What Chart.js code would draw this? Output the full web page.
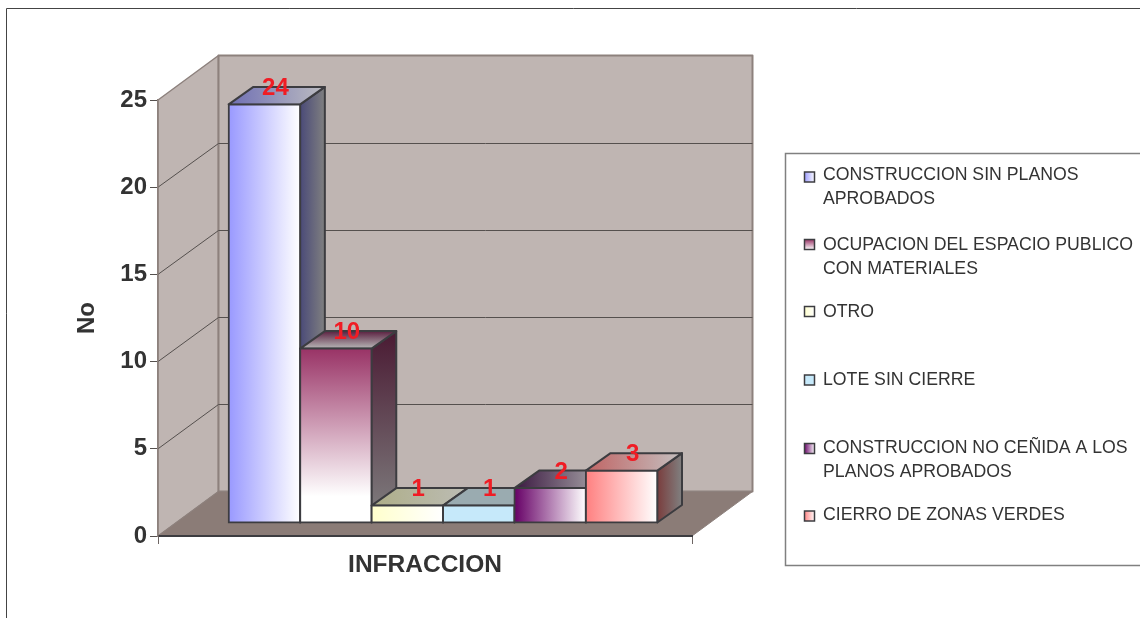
<!DOCTYPE html>
<html>
<head>
<meta charset="utf-8">
<style>
  html, body { margin: 0; padding: 0; background: #fff; overflow: hidden; }
  canvas { display: block; }
</style>
</head>
<body>
<canvas id="chart" width="1140" height="618"></canvas>
<script src="https://cdn.jsdelivr.net/npm/chart.js@4/dist/chart.umd.js"></script>
<script>
const axisCategory = ['INFRACCION'];
const seriesNames = [
  'CONSTRUCCION SIN PLANOS APROBADOS',
  'OCUPACION DEL ESPACIO PUBLICO CON MATERIALES',
  'OTRO',
  'LOTE SIN CIERRE',
  'CONSTRUCCION NO CEÑIDA A LOS PLANOS APROBADOS',
  'CIERRO DE ZONAS VERDES'
];
const seriesValues = [24, 10, 1, 1, 2, 3];
const yTicks = [0, 5, 10, 15, 20, 25];

// face colours of each bar: front, top and side start from these and fade to the end colour
const frontColors = ['#9999ff', '#993366', '#ffffcc', '#c6e9fa', '#660066', '#ff8080'];
const frontEnds = ['#ffffff', '#ffffff', '#ffffff', '#c6e9fa', '#ffffff', '#ffffff'];
const topColors = ['#6f6fb4', '#5a2040', '#aeae88', '#9aabb0', '#3a1840', '#c06464'];
const topEnds = ['#bcbcc0', '#b8b8b8', '#bcbcb4', '#9aabb0', '#b4b4b4', '#c4c0c0'];
const sideColors = ['#4a4a78', '#4a1a33', '#80805f', '#7d9099', '#330033', '#7a3d3d'];
const sideEnds = ['#808080', '#808080', '#808080', '#808080', '#808080', '#808080'];
const verticalFade = [false, true, false, false, false, false];

const fontName = '"Liberation Sans", Arial, sans-serif';
const wallColor = '#bfb5b2';
const floorColor = '#8b7c77';
const wallEdge = '#8d817d';
const gridColor = '#55504e';
const edgeColor = '#3c3c40';
const textColor = '#333333';

const wallDepth = { x: 60.5, y: 44.5 };
const barShift = { x: 18, y: 13 };
const barDepth = { x: 24.7, y: 17.5 };

function polygon(ctx, points, fill, stroke, width) {
  ctx.beginPath();
  points.forEach(([x, y], i) => (i ? ctx.lineTo(x, y) : ctx.moveTo(x, y)));
  ctx.closePath();
  if (fill) {
    ctx.fillStyle = fill;
    ctx.fill();
  }
  if (stroke) {
    ctx.strokeStyle = stroke;
    ctx.lineWidth = width;
    ctx.lineJoin = 'round';
    ctx.stroke();
  }
}

function fade(ctx, x0, y0, x1, y1, from, to, stop = 1) {
  const g = ctx.createLinearGradient(x0, y0, x1, y1);
  g.addColorStop(0, from);
  g.addColorStop(stop, to);
  return g;
}

// one bar: top and side faces, then the library's own bar element shifted onto the front plane
function drawBox(chart, i) {
  const { ctx } = chart;
  const bar = chart.getDatasetMeta(i).data[0];
  const x0 = bar.x - bar.width / 2 + barShift.x;
  const x1 = bar.x + bar.width / 2 + barShift.x;
  const yt = bar.y - barShift.y;
  const yb = bar.base - barShift.y;
  const dx = barDepth.x;
  const dy = barDepth.y;

  ctx.save();
  const sideFill = verticalFade[i]
    ? fade(ctx, 0, yt - dy, 0, yb, sideColors[i], sideEnds[i])
    : fade(ctx, x1, 0, x1 + dx, 0, sideColors[i], sideEnds[i]);
  const topFill = verticalFade[i]
    ? fade(ctx, 0, yt - dy, 0, yt, topColors[i], topEnds[i])
    : fade(ctx, x0, 0, x1 + dx, 0, topColors[i], topEnds[i]);
  polygon(ctx, [[x1, yt], [x1 + dx, yt - dy], [x1 + dx, yb - dy], [x1, yb]], sideFill, edgeColor, 2);
  polygon(ctx, [[x0, yt], [x0 + dx, yt - dy], [x1 + dx, yt - dy], [x1, yt]], topFill, edgeColor, 2);

  const frontFill = verticalFade[i]
    ? fade(ctx, 0, bar.y, 0, bar.base, frontColors[i], frontEnds[i], 0.85)
    : fade(ctx, bar.x - bar.width / 2, 0, bar.x + bar.width / 2, 0, frontColors[i], frontEnds[i]);
  bar.options = { ...bar.options, backgroundColor: frontFill };
  ctx.translate(barShift.x, -barShift.y);
  bar.draw(ctx);
  ctx.restore();
}

// frame, walls, floor and wall grid lines of the 3D box
const wallsPlugin = {
  id: 'walls',
  beforeDraw(chart) {
    const { ctx, chartArea, scales } = chart;
    const { left, right, top, bottom } = chartArea;
    const dx = wallDepth.x;
    const dy = wallDepth.y;
    ctx.save();

    ctx.strokeStyle = '#444444';
    ctx.lineWidth = 1;
    ctx.beginPath();
    ctx.moveTo(6.5, 618);
    ctx.lineTo(6.5, 8.5);
    ctx.lineTo(1140, 8.5);
    ctx.stroke();

    polygon(ctx, [[left, bottom], [left + dx, bottom - dy], [left + dx, top - dy], [left, top]], wallColor, wallEdge, 1.5);
    polygon(ctx, [[left + dx, top - dy], [right + dx, top - dy], [right + dx, bottom - dy], [left + dx, bottom - dy]], wallColor, wallEdge, 2);
    polygon(ctx, [[left, bottom], [left + dx, bottom - dy], [right + dx, bottom - dy], [right, bottom]], floorColor, wallEdge, 1);

    ctx.strokeStyle = gridColor;
    ctx.lineWidth = 1;
    yTicks.slice(1, -1).forEach(v => {
      const y = scales.y.getPixelForValue(v);
      const backY = Math.round(y - dy) + 0.5;
      ctx.beginPath();
      ctx.moveTo(left, y);
      ctx.lineTo(left + dx, backY);
      ctx.lineTo(right + dx, backY);
      ctx.stroke();
    });
    ctx.restore();
  },
  // the library paints right to left, these boxes need left to right
  beforeDatasetsDraw(chart) {
    seriesNames.forEach((name, i) => drawBox(chart, i));
  },
  beforeDatasetDraw() {
    return false;
  },
  afterDatasetsDraw(chart) {
    const { ctx } = chart;
    ctx.save();
    ctx.font = 'bold 24px ' + fontName;
    ctx.fillStyle = '#f01c24';
    ctx.textAlign = 'center';
    ctx.textBaseline = 'middle';
    seriesValues.forEach((v, i) => {
      const bar = chart.getDatasetMeta(i).data[0];
      ctx.fillText(String(v), bar.x + barShift.x + 11, bar.y - barShift.y - 16);
    });
    ctx.restore();
  }
};

// wrapped legend in its own box right of the plot
const legendPlugin = {
  id: 'boxLegend',
  afterDraw(chart) {
    const { ctx } = chart;
    const lineTops = [175, 245, 312, 380, 448, 515];
    const markerTops = [177, 244.5, 311.5, 380, 448.5, 516];
    const maxWidth = 318;
    ctx.save();
    ctx.strokeStyle = '#808080';
    ctx.lineWidth = 1.5;
    ctx.beginPath();
    ctx.moveTo(1140, 153.5);
    ctx.lineTo(785.5, 153.5);
    ctx.lineTo(785.5, 565.5);
    ctx.lineTo(1140, 565.5);
    ctx.stroke();

    ctx.font = '17.7px ' + fontName;
    ctx.textBaseline = 'middle';
    seriesNames.forEach((name, i) => {
      const my = markerTops[i];
      const g = verticalFade[i]
        ? fade(ctx, 0, my - 5, 0, my + 5, frontColors[i], frontEnds[i])
        : fade(ctx, 804, 0, 815, 0, frontColors[i], frontEnds[i]);
      ctx.fillStyle = g;
      ctx.fillRect(804.5, my - 5, 10, 10);
      ctx.strokeStyle = edgeColor;
      ctx.lineWidth = 1.5;
      ctx.strokeRect(804.5, my - 5, 10, 10);

      const lines = [];
      let line = '';
      name.split(' ').forEach(word => {
        const next = line ? line + ' ' + word : word;
        if (ctx.measureText(next).width > maxWidth) {
          lines.push(line);
          line = word;
        } else {
          line = next;
        }
      });
      lines.push(line);
      ctx.fillStyle = textColor;
      lines.forEach((text, n) => ctx.fillText(text, 823, lineTops[i] + n * 24));
    });
    ctx.restore();
  }
};

new Chart(document.getElementById('chart'), {
  type: 'bar',
  data: {
    labels: axisCategory,
    datasets: seriesNames.map((name, i) => ({
      label: name,
      data: [seriesValues[i]],
      backgroundColor: frontColors[i],
      borderColor: edgeColor,
      borderWidth: 2,
      borderSkipped: false,
      inflateAmount: 1,
      categoryPercentage: 0.8026,
      barPercentage: 1,
      clip: false
    }))
  },
  options: {
    responsive: false,
    animation: false,
    layout: { padding: { left: 0, top: 100, right: 448, bottom: 0 } },
    plugins: { legend: { display: false }, tooltip: { enabled: false } },
    scales: {
      x: {
        afterFit: s => { s.height = 82; },
        grid: { drawOnChartArea: false, drawTicks: true, tickLength: 8, color: '#6e6664', offset: true },
        border: { color: '#3c3c40', width: 2 },
        ticks: { display: false },
        title: {
          display: true,
          text: 'INFRACCION',
          color: textColor,
          font: { family: fontName, size: 24.5, weight: 'bold' },
          padding: { top: 0, bottom: 38 }
        }
      },
      y: {
        min: 0,
        max: 25,
        afterFit: s => { s.width = 158; },
        afterBuildTicks: s => { s.ticks = yTicks.map(value => ({ value })); },
        grid: { drawOnChartArea: false, drawTicks: true, tickLength: 8, color: gridColor },
        border: { color: wallEdge, width: 1.5 },
        ticks: {
          color: textColor,
          padding: 3,
          font: { family: fontName, size: 24, weight: 'bold' }
        },
        title: {
          display: true,
          text: 'No',
          color: textColor,
          font: { family: fontName, size: 24, weight: 'bold' },
          padding: { top: 73, bottom: 0 }
        }
      }
    }
  },
  plugins: [wallsPlugin, legendPlugin]
});
</script>
</body>
</html>
